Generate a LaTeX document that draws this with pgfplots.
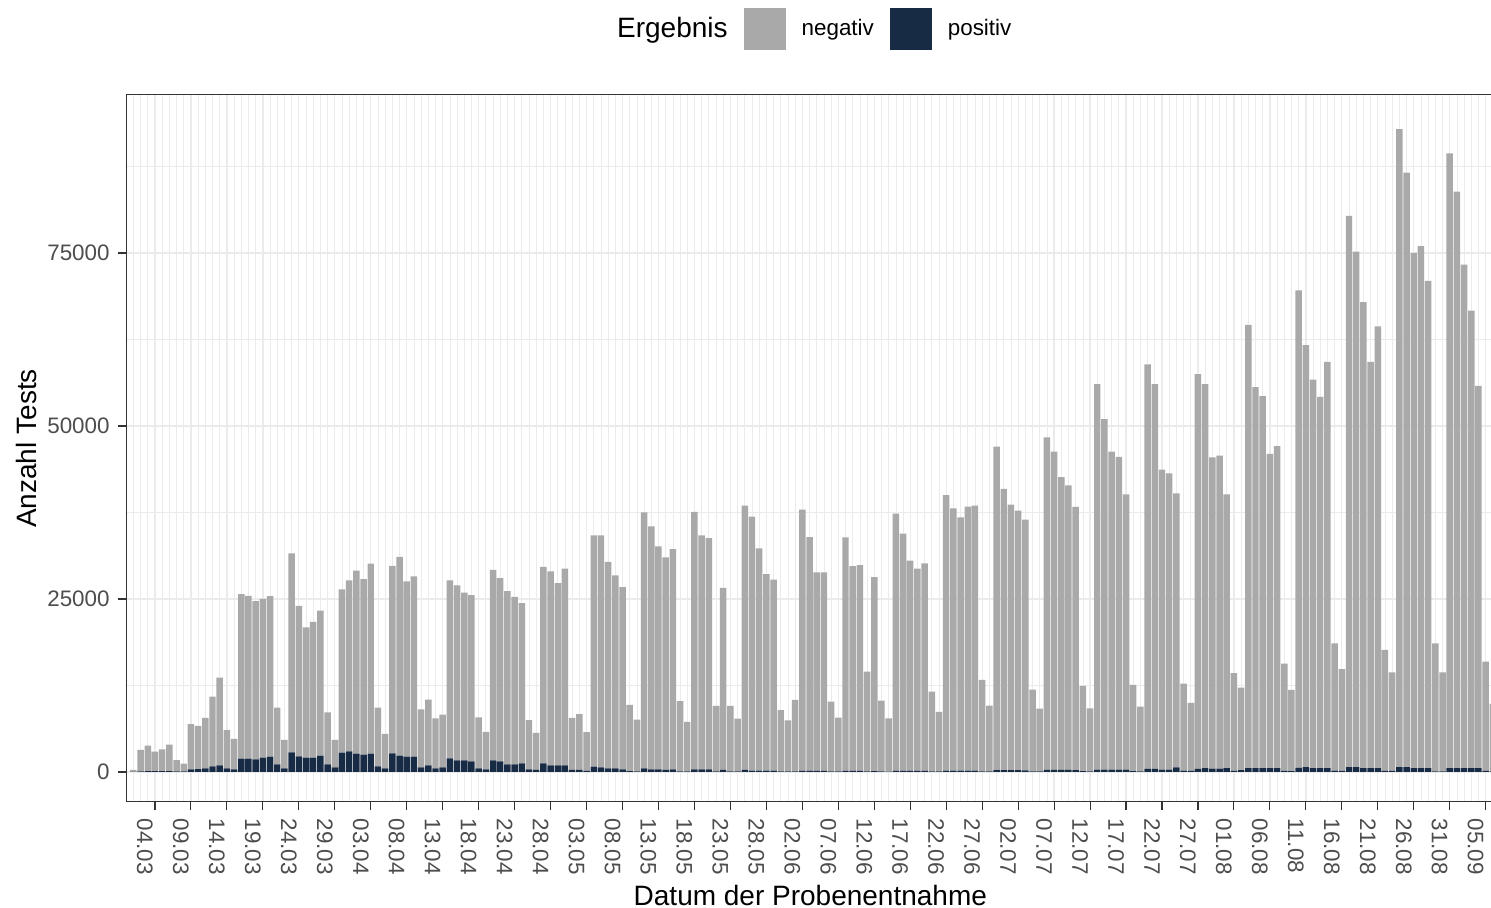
\documentclass[border=0pt]{standalone}
\usepackage{fontspec}
\setmainfont{Liberation Sans}
\usepackage{pgfplots}
\usepackage{pgfplotstable}
\pgfplotsset{compat=1.18}
\definecolor{negc}{HTML}{A9A9A9}
\definecolor{posc}{HTML}{182B45}
\definecolor{grey92}{HTML}{EBEBEB}
\definecolor{grey20}{HTML}{333333}
\definecolor{grey30}{HTML}{4D4D4D}
\pgfplotstableread{
d pos neg
0 30 270
1 100 3100
2 120 3680
3 110 2840
4 120 3130
5 130 3820
6 90 1610
7 80 1120
8 380 6520
9 400 6250
10 530 7270
11 820 10080
12 960 12690
13 530 5520
14 380 4420
15 1920 23780
16 1920 23530
17 1830 22870
18 2070 22930
19 2210 23190
20 1100 8200
21 530 4120
22 2840 28760
23 2260 21740
24 2070 18830
25 2070 19630
26 2360 20940
27 1100 7500
28 670 3980
29 2790 23610
30 2980 24720
31 2640 26460
32 2500 25350
33 2640 27460
34 820 8480
35 530 4970
36 2690 27110
37 2360 28740
38 2210 25340
39 2210 26040
40 670 8380
41 960 9490
42 530 7220
43 670 7630
44 1970 25730
45 1680 25270
46 1680 24220
47 1540 24010
48 530 7370
49 380 5420
50 1680 27520
51 1540 26460
52 1100 25050
53 1100 24200
54 1250 23150
55 380 7120
56 290 5360
57 1250 28400
58 960 28040
59 960 26340
60 960 28440
61 290 7510
62 290 8060
63 150 5600
64 770 33430
65 680 33520
66 530 29820
67 530 27870
68 390 26310
69 120 9580
70 100 7450
71 530 36970
72 390 35110
73 390 32210
74 290 30710
75 390 31810
76 100 10150
77 80 7170
78 390 37210
79 390 33810
80 390 33410
81 100 9450
82 290 26310
83 100 9450
84 80 7620
85 290 38210
86 200 36700
87 200 32100
88 200 28400
89 200 27600
90 100 8850
91 80 7370
92 100 10300
93 150 37750
94 150 33800
95 150 28700
96 150 28700
97 80 10070
98 70 7780
99 150 33750
100 150 29600
101 150 29750
102 100 14400
103 130 28020
104 70 10230
105 60 7690
106 150 37200
107 160 34290
108 150 30400
109 150 29250
110 160 29990
111 80 11520
112 70 8630
113 200 39800
114 200 37900
115 180 36620
116 200 38150
117 200 38300
118 100 13200
119 80 9520
120 250 46750
121 250 40650
122 250 38400
123 250 37500
124 220 36230
125 100 11800
126 80 9070
127 300 48050
128 300 46000
129 320 42280
130 300 41100
131 280 38020
132 120 12330
133 100 9100
134 350 55700
135 350 50650
136 330 45970
137 330 45220
138 330 39770
139 130 12470
140 100 9350
141 450 58450
142 450 55600
143 350 43350
144 350 42800
145 650 39600
146 200 12550
147 150 9850
148 450 57050
149 550 55500
150 500 44950
151 500 45200
152 550 39550
153 150 14150
154 250 11950
155 550 64050
156 550 55050
157 550 53750
158 550 45400
159 550 46550
160 150 15500
161 120 11730
162 600 69000
163 700 61000
164 550 56150
165 550 53650
166 550 58700
167 200 18400
168 150 14700
169 700 79650
170 700 74500
171 550 67350
172 550 58700
173 550 63850
174 150 17500
175 150 14250
176 700 92200
177 700 85900
178 550 74450
179 550 75450
180 550 70400
181 100 18500
182 100 14300
183 550 88850
184 550 83300
185 550 72750
186 550 66100
187 550 55250
188 150 15800
189 100 9750
}\testdata
\begin{document}
\begin{tikzpicture}
\path[use as bounding box] (-63.35pt,-53pt) rectangle (682.15pt,401pt);
\begin{axis}[
  at={(0,0)}, anchor=south west,
  scale only axis, width=683.65pt, height=353.5pt,
  xmin=-0.93, xmax=189.16, ymin=-4340, ymax=97830,
  enlargelimits=false,
  scaled y ticks=false, scaled x ticks=false,
  ybar stacked, bar width=0.9,
  xtick={3,8,...,188},
  xticklabels={04.03,09.03,14.03,19.03,24.03,29.03,03.04,08.04,13.04,18.04,23.04,28.04,03.05,08.05,13.05,18.05,23.05,28.05,02.06,07.06,12.06,17.06,22.06,27.06,02.07,07.07,12.07,17.07,22.07,27.07,01.08,06.08,11.08,16.08,21.08,26.08,31.08,05.09},
  minor xtick={0,...,189},
  ytick={0,25000,50000,75000},
  yticklabels={0,25000,50000,75000},
  minor ytick={12500,37500,62500,87500},
  xmajorgrids, xminorgrids, ymajorgrids, yminorgrids,
  major grid style={line width=0.6pt, draw=grey92},
  minor grid style={line width=0.35pt, draw=grey92},
  tick align=outside, major tick length=4.2pt, minor tick length=0pt,
  xtick pos=left, ytick pos=left,
  axis line style={draw=grey20, line width=0.5pt},
  major tick style={draw=grey20, line width=0.55pt},
  ticklabel style={font=\fontsize{11.2}{13}\selectfont, text=grey30, inner sep=0pt},
  xticklabel style={yshift=-3.95pt, xshift=-0.85pt, rotate=-90, anchor=north west},
  yticklabel style={xshift=-4.15pt, anchor=east},
  xlabel={Datum der Probenentnahme},
  ylabel={Anzahl Tests},
  every axis x label/.style={at={(axis description cs:0.5,0)}, yshift=-51.5pt, anchor=base, font=\fontsize{14}{16}\selectfont},
  every axis y label/.style={at={(axis description cs:0,0.5)}, xshift=-45pt, rotate=90, anchor=base, font=\fontsize{14}{16}\selectfont},
  legend image code/.code={\fill[#1] (0pt,-10.5pt) rectangle (21pt,10.5pt);},
  reverse legend,
  legend style={draw=none, fill=none, legend columns=-1,
    at={(axis description cs:0.497,1.094)}, anchor=center,
    font=\fontsize{11.2}{13}\selectfont,
    nodes={inner sep=0pt},
    /tikz/column sep=8pt},
]
\addplot[fill=posc, draw=none] table[x=d, y=pos]{\testdata};
\addlegendentry{positiv}
\addplot[fill=negc, draw=none] table[x=d, y=neg]{\testdata};
\addlegendentry{negativ}
\addlegendimage{empty legend}
\addlegendentry{\fontsize{14}{16}\selectfont Ergebnis}
\end{axis}
\end{tikzpicture}
\end{document}
